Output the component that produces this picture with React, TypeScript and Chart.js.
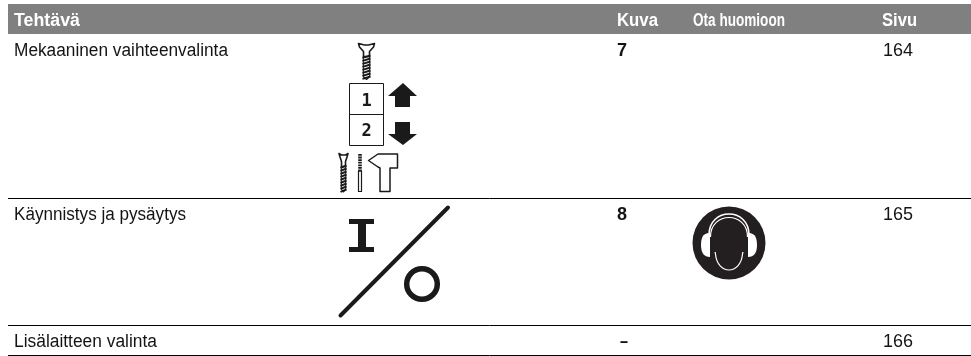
import React, { useEffect, useRef } from "react";
import { Chart, registerables } from "chart.js";

Chart.register(...registerables);

const headers = ["Tehtävä", "Kuva", "Ota huomioon", "Sivu"];
const tasks = ["Mekaaninen vaihteenvalinta", "Käynnistys ja pysäytys", "Lisälaitteen valinta"];
const figures = ["7", "8", "–"];
const pages = ["164", "165", "166"];

const rowBaselines = [56, 220, 346.5];
const rowRules = [198.5, 325.5, 355.5];
const headerBand = [4, 34];
const columnX = [14, 617, 693, 882];
const headerWidths = [66, 41, 92, 35];
const taskWidths = [214, 172, 143];
const FONT = "'Liberation Sans', Arial, sans-serif";

const tablePlugin = {
  id: "table",
  beforeDatasetsDraw(chart: any) {
    const { ctx, scales } = chart;
    const X = (v: number) => scales.x.getPixelForValue(v);
    const Y = (v: number) => scales.y.getPixelForValue(v);
    ctx.save();
    ctx.fillStyle = "#808080";
    ctx.fillRect(X(8), Y(headerBand[0]), X(971) - X(8), Y(headerBand[1]) - Y(headerBand[0]));
    ctx.textBaseline = "alphabetic";
    ctx.fillStyle = "#ffffff";
    ctx.font = `bold 18px ${FONT}`;
    headers.forEach((h, i) => ctx.fillText(h, X(columnX[i]), Y(26), headerWidths[i]));
    ctx.fillStyle = "#141414";
    tasks.forEach((t, i) => {
      ctx.font = `18px ${FONT}`;
      ctx.fillText(t, X(columnX[0]), Y(rowBaselines[i]), taskWidths[i]);
      ctx.fillText(pages[i], X(883), Y(rowBaselines[i]), 31);
      ctx.font = `bold 18px ${FONT}`;
      ctx.fillText(figures[i], X(figures[i] === "–" ? 620 : columnX[1]), Y(rowBaselines[i]), figures[i] === "–" ? 8 : 11);
    });
    ctx.strokeStyle = "#000";
    ctx.lineWidth = 1;
    rowRules.forEach((r) => {
      ctx.beginPath();
      ctx.moveTo(X(8), Y(r));
      ctx.lineTo(X(971), Y(r));
      ctx.stroke();
    });
    ctx.restore();
    drawIcons(ctx, X, Y);
  },
};

function poly(ctx: any, X: any, Y: any, pts: number[][], fill: boolean) {
  ctx.beginPath();
  pts.forEach((p, i) => (i ? ctx.lineTo(X(p[0]), Y(p[1])) : ctx.moveTo(X(p[0]), Y(p[1]))));
  ctx.closePath();
  fill ? ctx.fill() : ctx.stroke();
}

function screw(ctx: any, X: any, Y: any, cx: number, top: number, bottom: number, hw: number, sw: number) {
  ctx.lineWidth = 1.6;
  poly(ctx, X, Y, [[cx - hw, top], [cx - 2, top + 1.5], [cx + 2, top + 1.5], [cx + hw, top], [cx + hw - 1, top + 3.5], [cx + sw - 1, top + 8], [cx + sw - 1, top + 13], [cx - sw + 1, top + 13], [cx - sw + 1, top + 8], [cx - hw + 1, top + 3.5]], false);
  ctx.lineWidth = 2;
  for (let y = top + 13; y < bottom - 1; y += 3) {
    ctx.beginPath();
    ctx.moveTo(X(cx - sw), Y(y + 1.4));
    ctx.lineTo(X(cx + sw), Y(y - 1));
    ctx.stroke();
  }
  ctx.lineWidth = 1.1;
  poly(ctx, X, Y, [[cx - sw + 0.8, top + 13], [cx + sw - 0.8, top + 13], [cx + sw - 0.8, bottom - 3], [cx, bottom], [cx - sw + 0.8, bottom - 3]], false);
}

function drawIcons(ctx: any, X: any, Y: any) {
  ctx.save();
  ctx.strokeStyle = "#1a1a1a";
  ctx.fillStyle = "#1a1a1a";
  ctx.lineJoin = "round";

  screw(ctx, X, Y, 366.5, 43.5, 79.5, 8, 4);

  ctx.lineWidth = 1;
  ctx.strokeRect(X(349.5), Y(83.5), X(383.5) - X(349.5), Y(145.5) - Y(83.5));
  ctx.beginPath();
  ctx.moveTo(X(349.5), Y(114.5));
  ctx.lineTo(X(383.5), Y(114.5));
  ctx.stroke();
  ctx.font = "bold 17px 'DejaVu Sans Mono', monospace";
  ctx.textAlign = "center";
  ctx.fillText("1", X(366.5), Y(106));
  ctx.fillText("2", X(366.5), Y(136));
  ctx.textAlign = "left";
  poly(ctx, X, Y, [[403, 83], [417, 96], [410, 96], [410, 107], [395, 107], [395, 96], [388, 96]], true);
  poly(ctx, X, Y, [[403, 145], [417, 134], [410, 134], [410, 122], [395, 122], [395, 134], [388, 134]], true);

  screw(ctx, X, Y, 343.5, 153.5, 192, 4.5, 3);
  ctx.lineWidth = 1.2;
  ctx.strokeRect(X(358.5), Y(171), 3, Y(191.5) - Y(171));
  ctx.lineWidth = 3.6;
  ctx.setLineDash([1.8, 0.8]);
  ctx.beginPath();
  ctx.moveTo(X(360), Y(154));
  ctx.lineTo(X(360), Y(172));
  ctx.stroke();
  ctx.setLineDash([]);
  ctx.lineWidth = 1.5;
  poly(ctx, X, Y, [[368.5, 160.5], [378, 154], [397.5, 154], [397.5, 168], [390, 168], [390, 191.5], [380, 191.5], [380, 168], [378, 167]], false);

  ctx.fillRect(X(349), Y(219), 25, 5);
  ctx.fillRect(X(349), Y(247), 25, 5);
  ctx.fillRect(X(358), Y(222), 8, 27);
  ctx.lineWidth = 4;
  ctx.lineCap = "round";
  ctx.beginPath();
  ctx.moveTo(X(340.5), Y(315.5));
  ctx.lineTo(X(448), Y(207.5));
  ctx.stroke();
  ctx.lineCap = "butt";
  ctx.lineWidth = 5.5;
  ctx.beginPath();
  ctx.arc(X(422), Y(284), 15.3, 0, Math.PI * 2);
  ctx.stroke();

  // hearing protection sign
  const cx = 729, cy = 243;
  ctx.fillStyle = "#231f20";
  ctx.beginPath();
  ctx.arc(X(cx), Y(cy), 36.5, 0, Math.PI * 2);
  ctx.fill();
  // ear cups
  ctx.fillStyle = "#ffffff";
  [-1, 1].forEach((s) => {
    ctx.beginPath();
    ctx.moveTo(X(cx + s * 19), Y(cy - 10));
    ctx.bezierCurveTo(X(cx + s * 24), Y(cy - 10), X(cx + s * 28), Y(cy - 8), X(cx + s * 28), Y(cy + 2));
    ctx.bezierCurveTo(X(cx + s * 28), Y(cy + 10), X(cx + s * 25), Y(cy + 14), X(cx + s * 19), Y(cy + 14));
    ctx.closePath();
    ctx.fill();
  });
  // head band: two arcs
  ctx.strokeStyle = "#ffffff";
  ctx.lineWidth = 1.6;
  ctx.beginPath();
  ctx.moveTo(X(cx - 20), Y(cy - 8));
  ctx.bezierCurveTo(X(cx - 20), Y(cy - 36), X(cx + 20), Y(cy - 36), X(cx + 20), Y(cy - 8));
  ctx.stroke();
  ctx.lineWidth = 1.2;
  ctx.beginPath();
  ctx.moveTo(X(cx - 18.5), Y(cy - 6));
  ctx.bezierCurveTo(X(cx - 18.5), Y(cy - 32), X(cx + 18.5), Y(cy - 32), X(cx + 18.5), Y(cy - 6));
  ctx.stroke();
  // head
  const head = () => {
    ctx.beginPath();
    ctx.moveTo(X(cx - 17), Y(cy - 3));
    ctx.bezierCurveTo(X(cx - 17), Y(cy - 30), X(cx + 17), Y(cy - 30), X(cx + 17), Y(cy - 3));
    ctx.bezierCurveTo(X(cx + 17), Y(cy + 4), X(cx + 14), Y(cy + 7), X(cx + 13.5), Y(cy + 11));
    ctx.bezierCurveTo(X(cx + 12.5), Y(cy + 22), X(cx + 6), Y(cy + 27), X(cx), Y(cy + 27));
    ctx.bezierCurveTo(X(cx - 6), Y(cy + 27), X(cx - 12.5), Y(cy + 22), X(cx - 13.5), Y(cy + 11));
    ctx.bezierCurveTo(X(cx - 14), Y(cy + 7), X(cx - 17), Y(cy + 4), X(cx - 17), Y(cy - 3));
    ctx.closePath();
  };
  ctx.fillStyle = "#231f20";
  head();
  ctx.fill();
  ctx.save();
  ctx.beginPath();
  ctx.rect(X(cx - 20), Y(cy + 9), X(cx + 20) - X(cx - 20), Y(cy + 30) - Y(cy + 9));
  ctx.clip();
  ctx.lineWidth = 1.2;
  head();
  ctx.stroke();
  ctx.restore();
  ctx.restore();
}

export default function App() {
  const ref = useRef<HTMLCanvasElement>(null);
  useEffect(() => {
    const chart = new Chart(ref.current as HTMLCanvasElement, {
      type: "scatter",
      data: { datasets: [{ data: [], pointRadius: 0 }] },
      options: {
        animation: false,
        responsive: false,
        layout: { padding: 0 },
        plugins: { legend: { display: false }, tooltip: { enabled: false }, title: { display: false } },
        scales: {
          x: { type: "linear", min: 0, max: 971, display: false },
          y: { type: "linear", min: 0, max: 356, reverse: true, display: false },
        },
      },
      plugins: [tablePlugin],
    } as any);
    return () => chart.destroy();
  }, []);
  return (
    <div style={{ position: "fixed", left: 0, top: 0, width: 971, height: 356, background: "#fff" }}>
      <canvas ref={ref} width={971} height={356} style={{ display: "block" }} />
    </div>
  );
}
